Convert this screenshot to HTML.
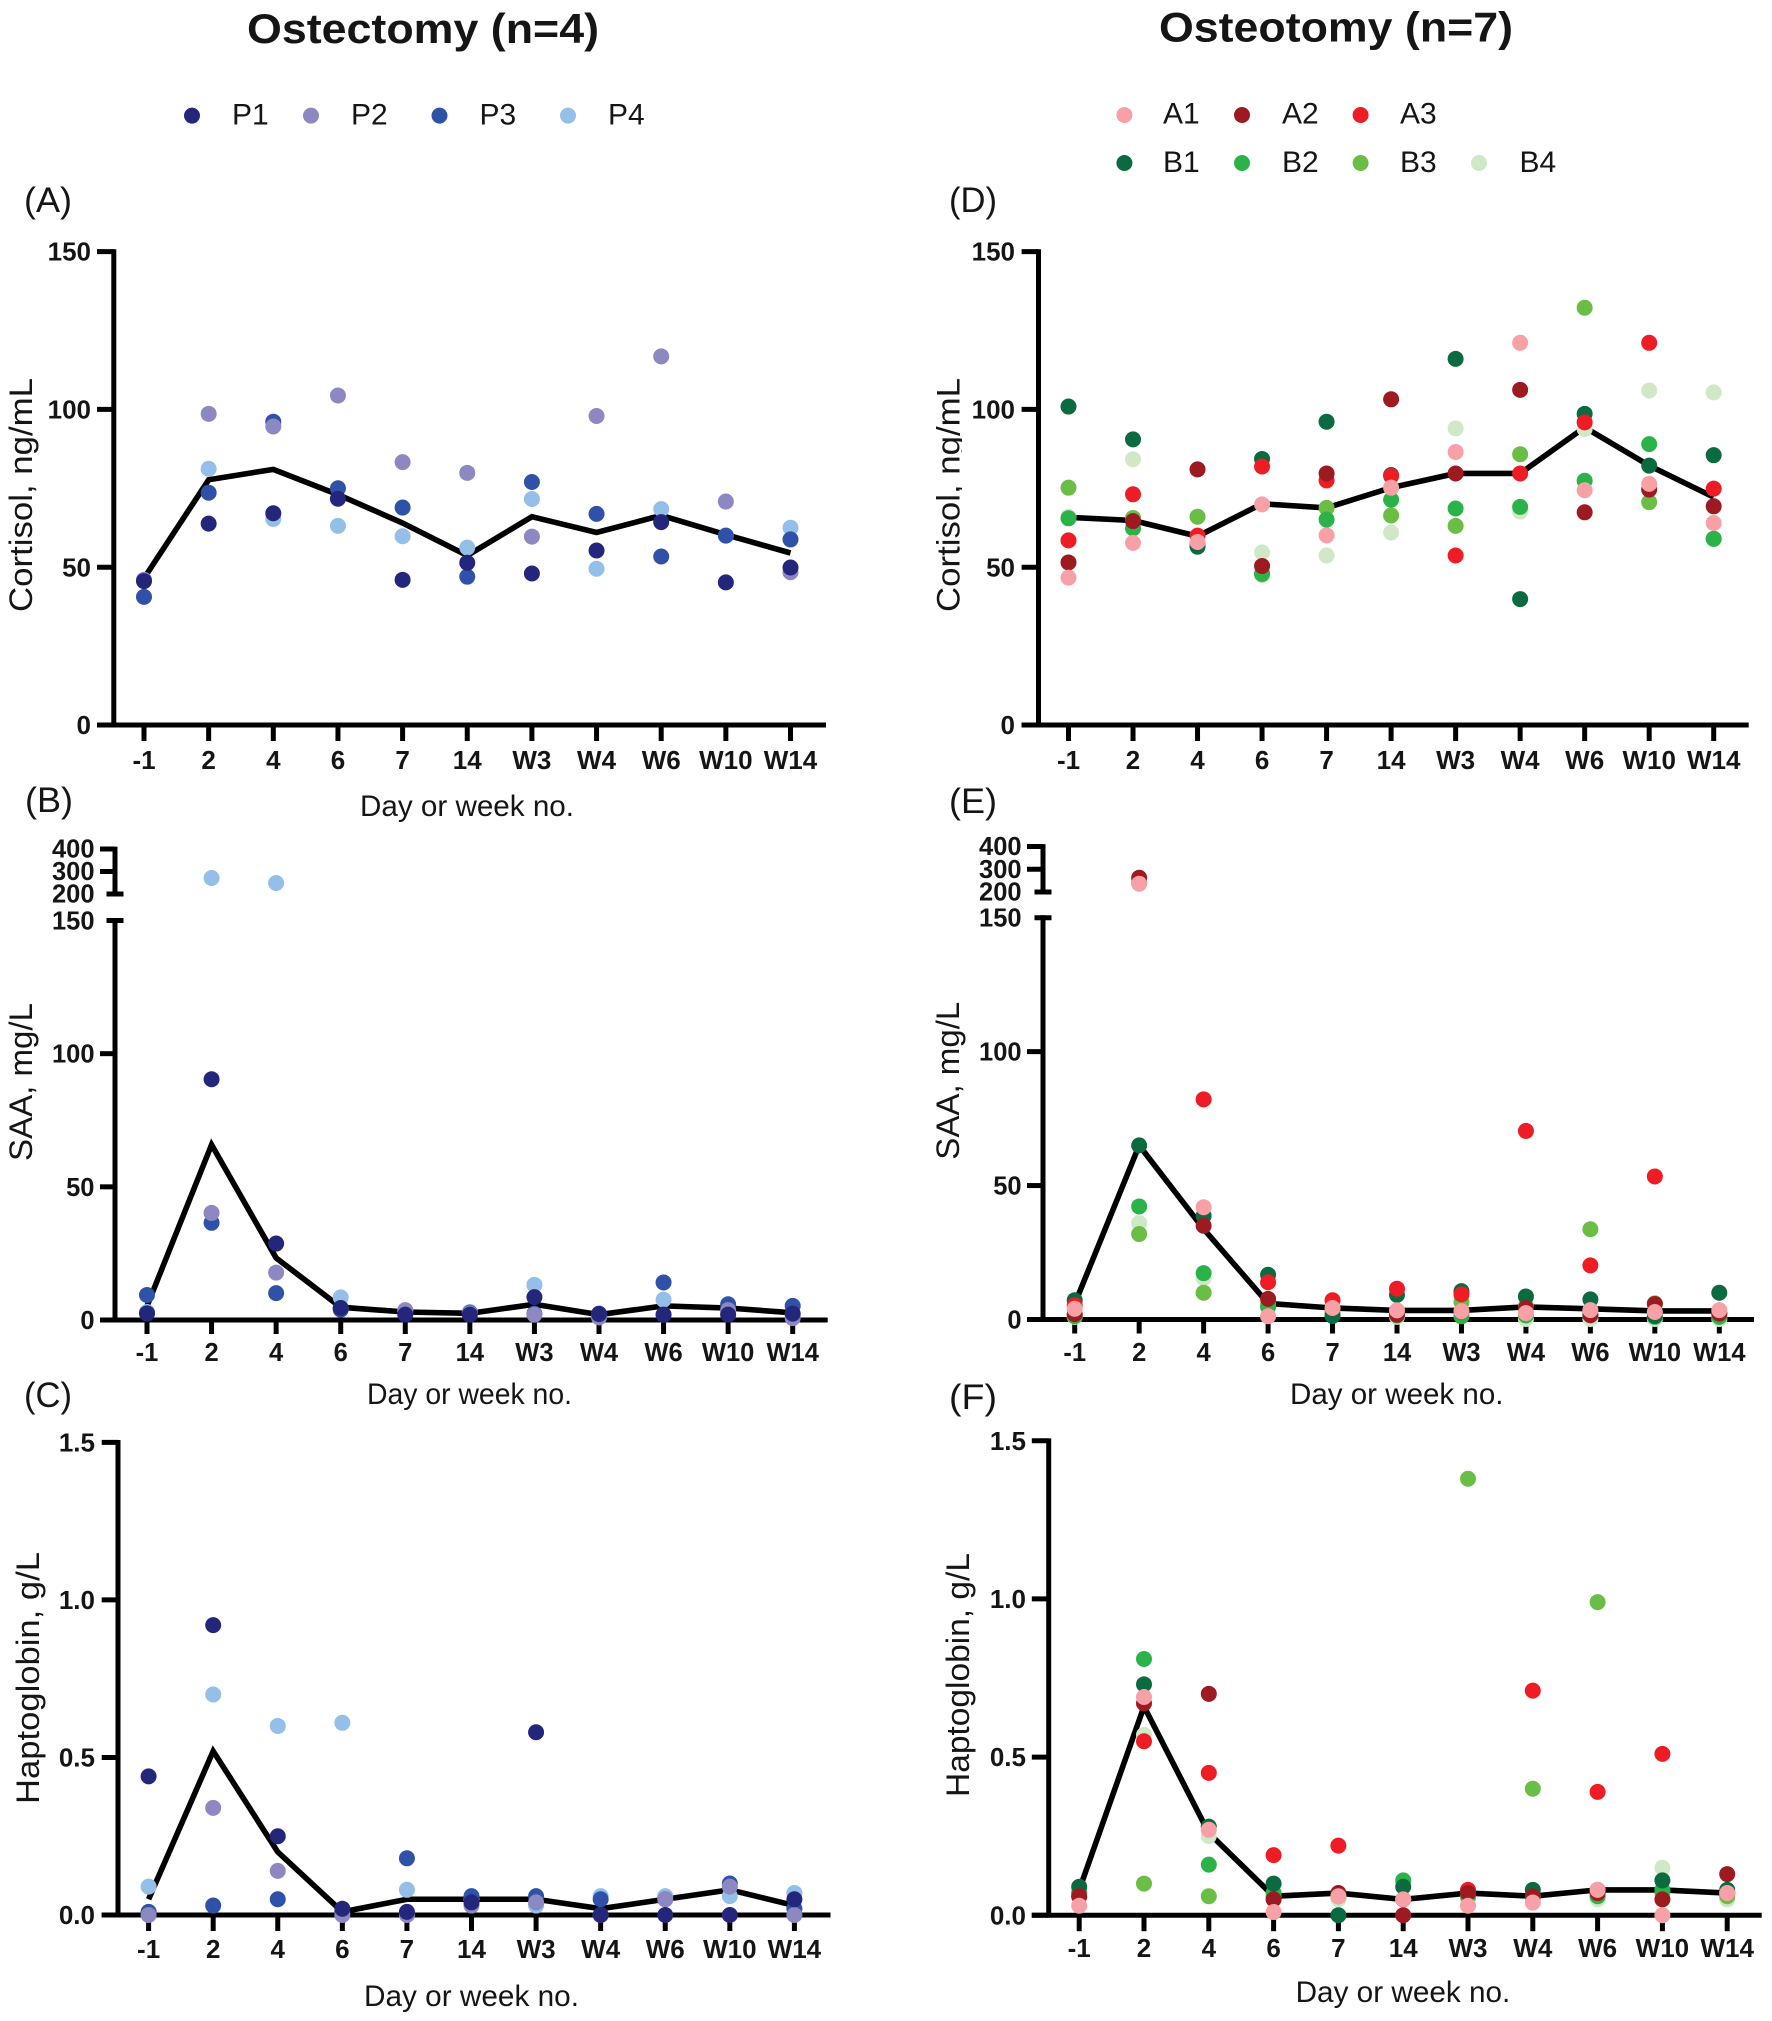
<!DOCTYPE html>
<html lang="en">
<head>
<meta charset="utf-8">
<title>Cortisol, SAA and Haptoglobin after Ostectomy and Osteotomy</title>
<style>
html,body{margin:0;padding:0;background:#fff}
svg{display:block}
text{font-family:"Liberation Sans",Arial,sans-serif;fill:#151515}
</style>
</head>
<body>
<svg id="figure" xmlns="http://www.w3.org/2000/svg" width="1772" height="2021" viewBox="0 0 1772 2021"></svg>
<script>
/* ---------- shared categories and ticks ---------- */
const categories = ['-1','2','4','6','7','14','W3','W4','W6','W10','W14'];
const cortisolTicks = [0,50,100,150];
const saaTicksLower = [0,50,100,150];
const saaTicksUpper = [200,300,400];
const haptoTicks = [0,0.5,1,1.5];
const haptoTickLabels = ['0.0','0.5','1.0','1.5'];

/* ---------- panel A: cortisol, ostectomy ---------- */
const aP1 = [45.6,63.8,67.1,71.7,46,51.4,48,55.3,64.3,45.2,49.9];
const aP2 = [46,98.6,94.6,104.4,83.3,79.9,59.7,97.9,116.8,70.8,48.4];
const aP3 = [40.6,73.6,96.1,75,68.9,47,77,66.9,53.4,60,58.8];
const aP4 = [46,81.2,65.3,63.1,59.8,56.2,71.6,49.5,68.4,60,62.5];
const aLine = [46.5,77.7,81,73,64,53.7,66,61,66.4,60.3,54.5];

/* ---------- panel B: SAA, ostectomy ---------- */
const bP1 = [2.5,90.4,28.7,4.5,2,2,8.6,2.2,2,2,2.4];
const bP2 = [2.5,40.2,17.8,4.5,3.7,2.5,2,1,2,3.7,0.7];
const bP3 = [9.4,36.5,10.1,3.9,2.5,2.7,2.4,2.4,14.1,5.9,5.3];
const bP4 = [3,271,249,8.5,3.5,3,13.2,2,7.6,3,1.5];
const bLine = [5.2,65.8,23.3,4.8,3,2.5,5.9,2,5.3,4.5,2.7];

/* ---------- panel C: haptoglobin, ostectomy ---------- */
const cP1 = [0.44,0.92,0.25,0.02,0.01,0.04,0.58,0,0,0,0.05];
const cP2 = [0,0.34,0.14,0,0,0.03,0.04,0,0.05,0.09,0];
const cP3 = [0.01,0.03,0.05,0.01,0.18,0.06,0.06,0.05,0.05,0.1,0.02];
const cP4 = [0.09,0.7,0.6,0.61,0.08,0.05,0.03,0.06,0.06,0.06,0.07];
const cLine = [0.05,0.52,0.2,0.01,0.05,0.05,0.05,0.02,0.05,0.08,0.03];

/* ---------- panel D: cortisol, osteotomy ---------- */
const dA1 = [46.7,57.7,58,69.9,60.1,75.2,86.5,121.1,74.4,76.4,64];
const dA2 = [51.5,64.6,81,50.4,79.7,103.2,79.7,106.2,67.4,74.6,69.3];
const dA3 = [58.5,73.1,60,81.9,77.5,78.9,53.7,79.7,95.9,121.1,74.9];
const dB1 = [100.9,90.5,56.5,84.3,96.1,79.2,116,39.9,98.6,82.2,85.5];
const dB2 = [65.5,62.3,57.5,48,65.1,71.4,68.6,69.1,77.4,89,59];
const dB3 = [75.2,65.6,66,47.7,68.8,66.4,63.1,85.8,132.2,70.6,59];
const dB4 = [66,84.2,81,54.7,53.7,61,94,67.6,93.8,106,105.4];
const dLine = [65.8,64.8,59.8,70.1,68.8,75.2,79.7,79.7,94.3,82.2,72.2];

/* ---------- panel E: SAA, osteotomy ---------- */
const eA1 = [4,236.5,41.9,1.2,4.3,3.4,3.1,2.4,3.5,2.8,3.5];
const eA2 = [2,262.6,35,7.7,4.3,1.8,3,4.3,1.6,5.8,2.2];
const eA3 = [5.3,240,82.2,13.9,7.2,11.5,9.4,70.4,20.2,53.4,2.5];
const eB1 = [7.2,65,38.7,16.7,1.3,9.2,10.6,8.6,7.5,1.3,10];
const eB2 = [1.3,42.2,17.3,4.7,1.6,1.5,1.2,1.5,2,1,1];
const eB3 = [1.3,31.9,10,5.8,2.8,2,6.5,5,33.7,6,2];
const eB4 = [1,36,15.4,5,1.5,1,1.5,0.2,0.2,0.2,0.2];
const eLine = [5.8,65,33.8,6,4.3,3.4,3.4,4.7,4,3.2,3.2];

/* ---------- panel F: haptoglobin, osteotomy ---------- */
const fA1 = [0.03,0.69,0.27,0.01,0.06,0.05,0.03,0.04,0.08,0,0.07];
const fA2 = [0.06,0.67,0.7,0.05,0.07,0,0.07,0.06,0.07,0.05,0.13];
const fA3 = [0.06,0.55,0.45,0.19,0.22,0.05,0.08,0.71,0.39,0.51,0.07];
const fB1 = [0.09,0.73,0.28,0.1,0,0.09,0.07,0.08,0.08,0.11,0.08];
const fB2 = [0.07,0.81,0.16,0.07,0.06,0.11,0.06,0.06,0.06,0.08,0.07];
const fB3 = [0.07,0.1,0.06,0.06,0.06,0.05,1.38,0.4,0.99,0.07,0.06];
const fB4 = [0.07,0.57,0.25,0.06,0.05,0.05,0.05,0.05,0.05,0.15,0.05];
const fLine = [0.08,0.66,0.26,0.06,0.07,0.05,0.07,0.06,0.08,0.08,0.07];

/* ---------- series styling (colours only) ---------- */
const colors = {P1:'#23267a',P2:'#8b88c2',P3:'#2f52a8',P4:'#93bfe8',
  A1:'#f7a1a6',A2:'#9c1a20',A3:'#ee1c25',B1:'#0c6a40',B2:'#2bb34a',B3:'#6abd45',B4:'#cfe8c5'};

const svg = document.getElementById('figure');
const NS = 'http://www.w3.org/2000/svg';
const DOT_R = 8;
const AXIS_W = 5;
const CAP = 8.5;

function make(tag, attrs, parent) {
  const el = document.createElementNS(NS, tag);
  for (const k in attrs) el.setAttribute(k, attrs[k]);
  (parent || svg).appendChild(el);
  return el;
}
function makeText(str, attrs, parent) {
  const el = make('text', attrs, parent);
  el.textContent = str;
  return el;
}

/* ---------- clip used on panel D's y title (descenders cut in source figure) ---------- */
const defs = make('defs', {});
const clip = make('clipPath', {id:'d-title-clip'}, defs);
make('rect', {x:930, y:360, width:32, height:270}, clip);

/* ---------- panel definitions: layout + references to the data arrays ---------- */
const panels = [
 {id:'a', letter:'(A)', lx:24, ly:212, ax:113.8, x0:144, x10:790.5, xl:97, xr:826, y0:725, yTop:251.6, maxV:150,
  ticks:cortisolTicks, tickLabels:null, tickFrom:97, labelRight:91, tickBase:769, tickFs:26, tickLen:16,
  yTitle:'Cortisol, ng/mL', ytx:32, ytStart:612, ytLen:234, xTitle:[360,214,816],
  order:[['P4',aP4],['P3',aP3],['P2',aP2],['P1',aP1]], line:aLine},
 {id:'b', letter:'(B)', lx:25, ly:812, ax:115, x0:147, x10:792.7, xl:100, xr:827.7, y0:1320, yTop:920.5, maxV:150,
  ticks:saaTicksLower, tickLabels:null, tickFrom:100, labelRight:94.5, tickBase:1361, tickFs:25.5, tickLen:14,
  upper:{ticks:saaTicksUpper, y200:894, y400:849},
  yTitle:'SAA,  mg/L', ytx:32, ytStart:1161, ytLen:158, xTitle:[367,205,1404],
  order:[['P4',bP4],['P3',bP3],['P2',bP2],['P1',bP1]], line:bLine},
 {id:'c', letter:'(C)', lx:24, ly:1407, ax:118, x0:148.6, x10:794.4, xl:101.7, xr:830.5, y0:1915, yTop:1442.4, maxV:1.5,
  ticks:haptoTicks, tickLabels:haptoTickLabels, tickFrom:101.7, labelRight:95, tickBase:1958, tickFs:26, tickLen:16,
  yTitle:'Haptoglobin,  g/L', ytx:39, ytStart:1804, ytLen:252, xTitle:[364,215,2006],
  order:[['P4',cP4],['P3',cP3],['P2',cP2],['P1',cP1]], line:cLine},
 {id:'d', letter:'(D)', lx:949, ly:212, ax:1038.5, x0:1068.5, x10:1713.7, xl:1021.6, xr:1748.7, y0:725, yTop:251.6, maxV:150,
  ticks:cortisolTicks, tickLabels:null, tickFrom:1021.6, labelRight:1015, tickBase:769, tickFs:26, tickLen:16,
  yTitle:'Cortisol, ng/mL', ytx:959.5, ytStart:612, ytLen:234, ytClip:true, xTitle:null,
  order:[['B4',dB4],['B3',dB3],['B2',dB2],['B1',dB1],['A3',dA3],['A2',dA2],['A1',dA1]], line:dLine},
 {id:'e', letter:'(E)', lx:949, ly:813, ax:1043, x0:1074.7, x10:1719.3, xl:1027, xr:1754, y0:1319.5, yTop:917.7, maxV:150,
  ticks:saaTicksLower, tickLabels:null, tickFrom:1027, labelRight:1021.6, tickBase:1361, tickFs:25.5, tickLen:14,
  upper:{ticks:saaTicksUpper, y200:892, y400:846.5},
  yTitle:'SAA,  mg/L', ytx:959, ytStart:1159.7, ytLen:158, xTitle:[1290,213.5,1404],
  order:[['B4',eB4],['B3',eB3],['B2',eB2],['B1',eB1],['A3',eA3],['A2',eA2],['A1',eA1]], line:eLine},
 {id:'f', letter:'(F)', lx:949, ly:1409, ax:1048.7, x0:1079.2, x10:1727.2, xl:1031.8, xr:1761.7, y0:1915.2, yTop:1440.8, maxV:1.5,
  ticks:haptoTicks, tickLabels:haptoTickLabels, tickFrom:1031.8, labelRight:1026, tickBase:1957, tickFs:26, tickLen:16,
  yTitle:'Haptoglobin,  g/L', ytx:969, ytStart:1797, ytLen:244, xTitle:[1295.6,214.7,2002],
  order:[['B4',fB4],['B3',fB3],['B2',fB2],['B1',fB1],['A3',fA3],['A2',fA2],['A1',fA1]], line:fLine}
];

function drawPanel(p) {
  const g = make('g', {});
  
  

  const xScale = i => p.x0 + (p.x10 - p.x0) * i / (categories.length - 1);
  const yScale = v => {
    if (p.upper && v > p.maxV) {
      return p.upper.y200 + (p.upper.y400 - p.upper.y200) * (v - 200) / 200;
    }
    return p.y0 + (p.yTop - p.y0) * v / p.maxV;
  };

  /* panel letter */
  const letter = makeText(p.letter, {x:p.lx, y:p.ly, 'font-size':35, textLength:48, lengthAdjust:'spacingAndGlyphs'}, g);
  
  

  /* y axis title */
  const ytAttrs = {x:0, y:0, 'font-size':32, textLength:p.ytLen, lengthAdjust:'spacingAndGlyphs',
    transform:'translate(' + p.ytx + ',' + p.ytStart + ') rotate(-90)'};
  const yTitleHost = p.ytClip ? make('g', {'clip-path':'url(#d-title-clip)'}, g) : g;
  const yTitle = makeText(p.yTitle, ytAttrs, yTitleHost);
  
  

  /* x axis title */
  if (p.xTitle) {
    const xTitle = makeText('Day or week no.', {x:p.xTitle[0], y:p.xTitle[2], 'font-size':30,
      textLength:p.xTitle[1], lengthAdjust:'spacingAndGlyphs'}, g);
    
    
  }

  /* y axis */
  const yAxis = make('line', {x1:p.ax, x2:p.ax, y1:yScale(p.maxV) - 2.4, y2:p.y0, stroke:'#000', 'stroke-width':AXIS_W}, g);
  
  

  p.ticks.forEach((t, i) => {
    const y = yScale(t);
    const isCap = p.upper && t === p.maxV;
    const tick = make('line', {x1:isCap ? p.ax - CAP : p.tickFrom, x2:isCap ? p.ax + CAP : p.ax, y1:y, y2:y, stroke:'#000', 'stroke-width':AXIS_W}, g);
    
    
    const lab = makeText(p.tickLabels ? p.tickLabels[i] : String(t), {x:p.labelRight, y:y + p.tickFs * 0.35,
      'font-size':p.tickFs, 'font-weight':'bold', 'text-anchor':'end'}, g);
    
    
  });

  if (p.upper) {
    const up = make('line', {x1:p.ax, x2:p.ax, y1:yScale(400) - 2.4, y2:yScale(200) + 2.4, stroke:'#000', 'stroke-width':AXIS_W}, g);
    
    
    p.upper.ticks.forEach(t => {
      const y = yScale(t);
      const isCap = t === 200;
      const tick = make('line', {x1:isCap ? p.ax - CAP : p.tickFrom, x2:isCap ? p.ax + CAP : p.ax, y1:y, y2:y, stroke:'#000', 'stroke-width':AXIS_W}, g);
      
      
      const lab = makeText(String(t), {x:p.labelRight, y:y + 8.5, 'font-size':p.tickFs, 'font-weight':'bold', 'text-anchor':'end'}, g);
      
      
    });
  }

  /* x axis */
  const xAxis = make('line', {x1:p.xl, x2:p.xr, y1:p.y0, y2:p.y0, stroke:'#000', 'stroke-width':AXIS_W}, g);
  
  

  categories.forEach((c, i) => {
    const x = xScale(i);
    const tick = make('line', {x1:x, x2:x, y1:p.y0, y2:p.y0 + p.tickLen, stroke:'#000', 'stroke-width':AXIS_W}, g);
    
    
    const lab = makeText(c, {x:x, y:p.tickBase, 'font-size':p.tickFs, 'font-weight':'bold', 'text-anchor':'middle'}, g);
    
    
  });

  /* central tendency line */
  const pts = p.line.map((v, i) => xScale(i) + ',' + yScale(v)).join(' ');
  const line = make('polyline', {points:pts, fill:'none', stroke:'#000', 'stroke-width':5.6, 'stroke-linejoin':'miter'}, g);
  
  

  /* points */
  p.order.forEach(s => {
    const sg = make('g', {fill:colors[s[0]]}, g);
    
    
    s[1].forEach((v, i) => {
      const dot = make('circle', {cx:xScale(i), cy:yScale(v), r:DOT_R}, sg);
      
      
    });
  });
}

/* ---------- column titles ---------- */
const titleLeft = makeText('Ostectomy (n=4)', {x:247, y:43, 'font-size':42, 'font-weight':'bold', textLength:352, lengthAdjust:'spacingAndGlyphs'});


const titleRight = makeText('Osteotomy (n=7)', {x:1159, y:41.5, 'font-size':42, 'font-weight':'bold', textLength:354, lengthAdjust:'spacingAndGlyphs'});



/* ---------- legends ---------- */
const legendEntries = [
  ['P1',192,115.6,232,124.5],['P2',311,115.6,351,124.5],['P3',439.5,115.6,479.5,124.5],['P4',568,115.6,608,124.5],
  ['A1',1124.4,115,1163,123.5],['A2',1242,115,1282,123.5],['A3',1360.6,115,1400,123.5],
  ['B1',1124.4,163,1163,172],['B2',1242,163,1282,172],['B3',1360.6,163,1400,172],['B4',1479,163,1519.5,172]
];
legendEntries.forEach(e => {
  const g = make('g', {});
  
  
  const swatch = make('circle', {cx:e[1], cy:e[2], r:DOT_R, fill:colors[e[0]]}, g);
  
  
  const label = makeText(e[0], {x:e[3], y:e[4], 'font-size':30}, g);
  
  
});

panels.forEach(drawPanel);
</script>
</body>
</html>
